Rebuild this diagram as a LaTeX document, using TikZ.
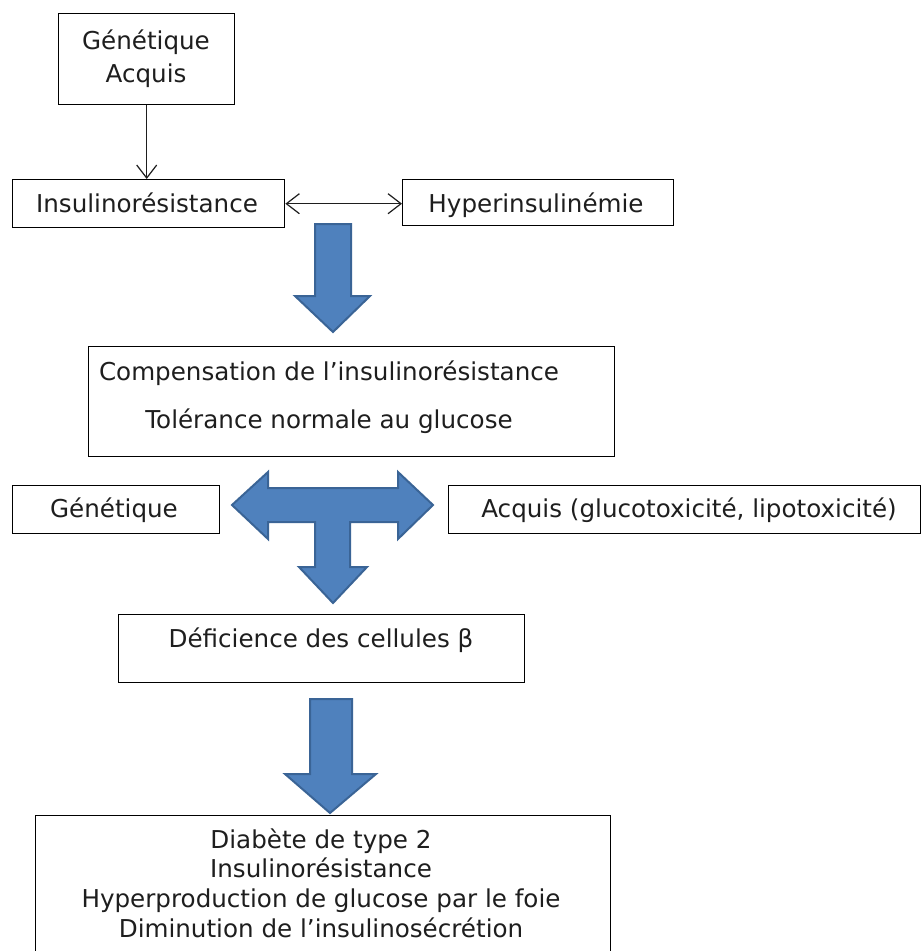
\documentclass[tikz,border=0pt]{standalone}
\usepackage{fontspec}
\setmainfont{DejaVu Sans}
\usetikzlibrary{arrows.meta}
\definecolor{arrfill}{HTML}{4F81BD}
\definecolor{arrdraw}{HTML}{3A6496}
\definecolor{ink}{HTML}{1E1E1E}
\begin{document}
\begin{tikzpicture}[x=1pt,y=-1pt,
  box/.style={draw=black, line width=1.4pt, fill=white, inner sep=0pt, anchor=north west},
  txt/.style={anchor=base, inner sep=0pt, text=ink, font=\fontsize{24.6pt}{29.5pt}\selectfont},
  blockarrow/.style={fill=arrfill, draw=arrdraw, line width=2pt, line join=miter},
  conn/.style={line width=1.2pt, draw=ink},
  barb/.tip={Straight Barb[length=13pt,width=20pt,line width=1.2pt]}]
\useasboundingbox[fill=white] (0,0) rectangle (923,951);

% boxes
\node[box, minimum width=176pt, minimum height=91pt] (g1) at (58,13) {};
\node[box, minimum width=272pt, minimum height=48pt] (ins) at (12,179) {};
\node[box, minimum width=271pt, minimum height=46pt] (hyp) at (402,179) {};
\node[box, minimum width=526pt, minimum height=110pt] (comp) at (88,346) {};
\node[box, minimum width=207pt, minimum height=48pt] (gen) at (12,485) {};
\node[box, minimum width=472pt, minimum height=48pt] (acq) at (448,485) {};
\node[box, minimum width=406pt, minimum height=68pt] (def) at (118,614) {};
\node[box, minimum width=575pt, minimum height=170pt] (diab) at (35,815) {};

% texts
\node[txt] (g1a) at (146,49) {Génétique};
\node[txt] (g1b) at (146,82) {Acquis};
\node[txt] (inst) at (147,212) {Insulinorésistance};
\node[txt] (hypt) at (536,212) {Hyperinsulinémie};
\node[txt] (compa) at (329,380) {Compensation de l’insulinorésistance};
\node[txt] (compb) at (329,428) {Tolérance normale au glucose};
\node[txt] (gent) at (114,517) {Génétique};
\node[txt] (acqt) at (689,517) {Acquis (glucotoxicité, lipotoxicité)};
\node[txt] (deft) at (321,647) {Déficience des cellules β};
\node[txt] (diaba) at (321,848) {Diabète de type 2};
\node[txt] (diabb) at (321,877) {Insulinorésistance};
\node[txt] (diabc) at (321,907) {Hyperproduction de glucose par le foie};
\node[txt] (diabd) at (321,937) {Diminution de l’insulinosécrétion};

% thin connectors
\draw[conn, -barb] (g1.south) -- (g1.south |- ins.north);
\draw[conn, barb-barb] (ins.east) -- (ins.east -| hyp.west);

% block arrows
\draw[blockarrow] (315,224) -- (351,224) -- (351,296) -- (370,296) -- (333,332) -- (295,296) -- (315,296) -- cycle;
\draw[blockarrow] (232,505) -- (268,472) -- (268,488) -- (398,488) -- (398,472) -- (433,505)
  -- (398,539) -- (398,522) -- (350,522) -- (350,567) -- (367,567) -- (333,603)
  -- (299,567) -- (315,567) -- (315,522) -- (268,522) -- (268,539) -- cycle;
\draw[blockarrow] (310,699) -- (352,699) -- (352,774) -- (376,774) -- (330,813) -- (285,774) -- (310,774) -- cycle;
\end{tikzpicture}
\end{document}
